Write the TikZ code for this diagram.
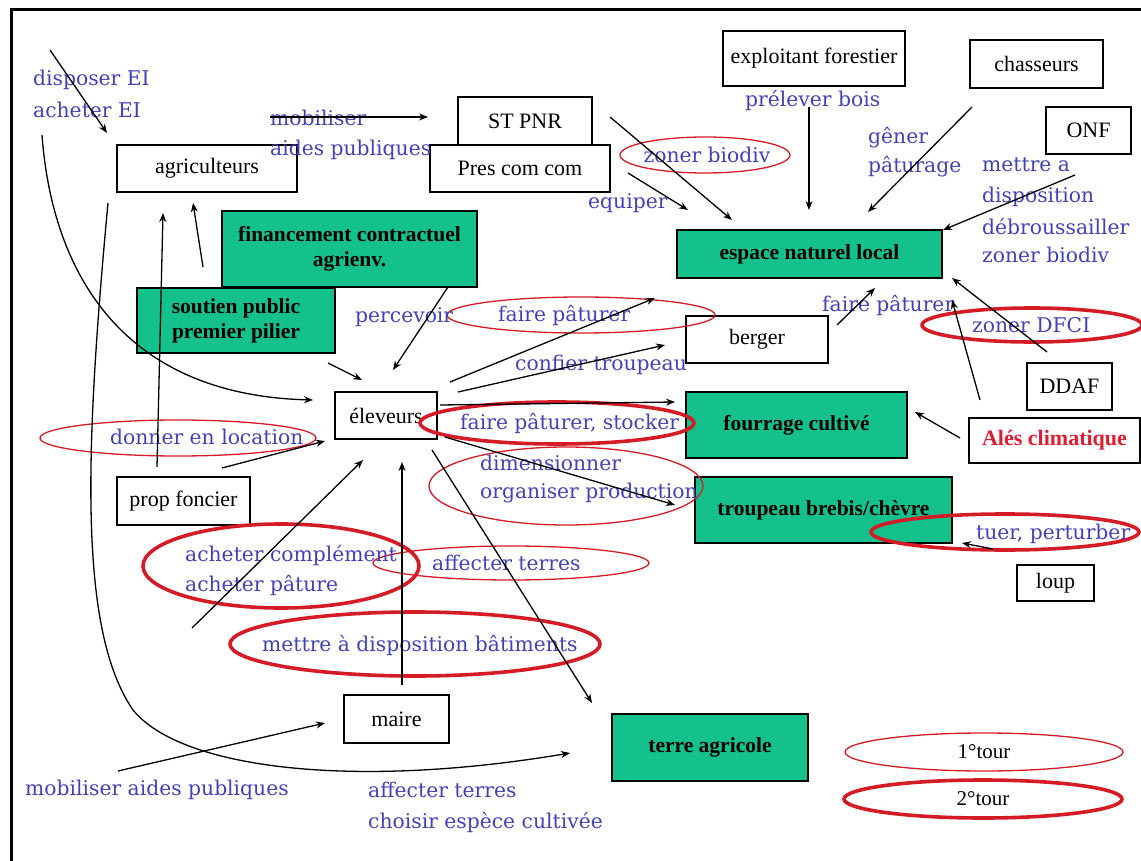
\documentclass[tikz,border=0pt]{standalone}
\usepackage{fontspec}
\setmainfont{Liberation Serif}
\newfontfamily\lblfont{DejaVu Serif}
\usetikzlibrary{shapes.geometric,arrows.meta}
\definecolor{vert}{RGB}{20,192,140}
\definecolor{lblblue}{RGB}{66,66,184}
\definecolor{ellred}{RGB}{212,28,38}
\definecolor{alesred}{RGB}{220,30,50}
\tikzset{
  box/.style={draw=black, line width=1.6pt, fill=white, rectangle, inner sep=0pt, outer sep=0pt,
    font=\fontsize{22}{25}\selectfont, align=center},
  gbox/.style={box, fill=vert, font=\bfseries\fontsize{21.5}{25}\selectfont},
  thinell/.style={draw=ellred, line width=1.3pt, ellipse, inner sep=0pt},
  thickell/.style={draw=ellred, line width=3.6pt, ellipse, inner sep=0pt},
  lbl/.style={text=lblblue, font=\lblfont\fontsize{20.3}{23}\selectfont, anchor=west, inner sep=0pt},
  arr/.style={draw=black, line width=1.3pt, -{Stealth[length=9pt,width=7pt]}},
}
\begin{document}
\begin{tikzpicture}[x=1pt,y=-1pt]
\useasboundingbox (0,0) rectangle (1141,861);
\fill[white] (0,0) rectangle (1141,861);
% frame
\draw[line width=3pt] (11,861) -- (11,10) -- (1141,10);

% white boxes
\node[box, minimum width=180, minimum height=47] (agri) at (207,168.5) {agriculteurs};
\node[box, minimum width=134, minimum height=48] (stpnr) at (525,121) {ST PNR};
\node[box, minimum width=180, minimum height=47] (prescom) at (520,168.5) {Pres com com};
\node[box, minimum width=182, minimum height=55] (exploit) at (814,58.5) {exploitant forestier};
\node[box, minimum width=133, minimum height=48] (chass) at (1036.5,64) {chasseurs};
\node[box, minimum width=85, minimum height=47] (onf) at (1088.5,130.5) {ONF};
\node[box, minimum width=142, minimum height=47] (berger) at (757,339.5) {berger};
\node[box, minimum width=102, minimum height=47] (elev) at (386,415.5) {éleveurs};
\node[box, minimum width=85, minimum height=47] (ddaf) at (1069.5,386.5) {DDAF};
\node[box, minimum width=171, minimum height=45, text=alesred, font=\bfseries\fontsize{22}{25}\selectfont] (ales) at (1054.5,440.5) {Alés climatique};
\node[box, minimum width=133, minimum height=48] (prop) at (183.5,501) {prop foncier};
\node[box, minimum width=77, minimum height=36] (loup) at (1055.5,583) {loup};
\node[box, minimum width=105, minimum height=48] (maire) at (396.5,719) {maire};

% green boxes
\node[gbox, minimum width=255, minimum height=76] (fin) at (349.5,249) {financement contractuel\\agrienv.};
\node[gbox, minimum width=198, minimum height=65] (soutien) at (236,320.5) {soutien public\\premier pilier};
\node[gbox, minimum width=265, minimum height=48] (espace) at (809.5,254) {espace naturel local};
\node[gbox, minimum width=221, minimum height=66] (fourrage) at (796.5,425) {fourrage cultivé};
\node[gbox, minimum width=257, minimum height=66] (troupeau) at (823.5,510) {troupeau brebis/chèvre};
\node[gbox, minimum width=196, minimum height=67] (terre) at (710,747.5) {terre agricole};

% ellipses
\node[thinell, minimum width=170, minimum height=36] (ezoner) at (705,155) {};
\node[thinell, minimum width=268, minimum height=36] (efaire) at (581,315) {};
\node[thickell, minimum width=220, minimum height=34] (edfci) at (1032,325) {};
\node[thinell, minimum width=276, minimum height=36] (eloc) at (178,438) {};
\node[thickell, minimum width=274, minimum height=42] (estock) at (557,423) {};
\node[thinell, minimum width=274, minimum height=78] (edim) at (566,486) {};
\node[thickell, minimum width=268, minimum height=36] (etuer) at (1005,532) {};
\node[thickell, minimum width=276, minimum height=84] (eachat) at (281,566) {};
\node[thinell, minimum width=276, minimum height=34] (eaff) at (511,563) {};
\node[thickell, minimum width=370, minimum height=64] (ebat) at (415,644) {};
\node[thinell, minimum width=278, minimum height=38, font=\fontsize{21}{24}\selectfont] (etour1) at (984,752) {1°tour};
\node[thickell, minimum width=278, minimum height=38, font=\fontsize{21}{24}\selectfont] (etour2) at (983,799) {2°tour};

% blue labels
\node[lbl] (l1) at (33,80) {disposer EI};
\node[lbl] (l2) at (33,110) {acheter EI};
\node[lbl] (l3) at (270,118) {mobiliser};
\node[lbl] (l4) at (270,150) {aides publiques};
\node[lbl, anchor=center] (l5) at (707,155) {zoner biodiv};
\node[lbl] (l6) at (588,203) {equiper};
\node[lbl] (l7) at (745,100) {prélever bois};
\node[lbl] (l8) at (868,138) {gêner};
\node[lbl] (l9) at (868,167) {pâturage};
\node[lbl] (l10) at (982,165) {mettre a};
\node[lbl] (l11) at (982,197) {disposition};
\node[lbl] (l12) at (982,227) {débroussailler};
\node[lbl] (l13) at (982,255) {zoner biodiv};
\node[lbl] (l14) at (355,317) {percevoir};
\node[lbl] (l15) at (498,315) {faire pâturer};
\node[lbl] (l16) at (822,305) {faire pâturer};
\node[lbl] (l17) at (515,365) {confier troupeau};
\node[lbl] (l18) at (972,325) {zoner DFCI};
\node[lbl] (l19) at (110,437) {donner en location};
\node[lbl] (l20) at (460,423) {faire pâturer, stocker};
\node[lbl] (l21) at (480,463) {dimensionner};
\node[lbl] (l22) at (480,493) {organiser production};
\node[lbl] (l23) at (976,534) {tuer, perturber};
\node[lbl] (l24) at (185,555) {acheter complément};
\node[lbl] (l25) at (185,585) {acheter pâture};
\node[lbl] (l26) at (432,563) {affecter terres};
\node[lbl] (l27) at (262,645) {mettre à disposition bâtiments};
\node[lbl] (l28) at (25,790) {mobiliser aides publiques};
\node[lbl] (l29) at (368,790) {affecter terres};
\node[lbl] (l30) at (368,822) {choisir espèce cultivée};

% arrow end points
\coordinate (a1s) at (50,50);    \coordinate (a1e) at (107,133);
\coordinate (a2s) at (270,117);  \coordinate (a2e) at (428,117);
\coordinate (a3s) at (610,117);  \coordinate (a3e) at (732,220);
\coordinate (a4s) at (628,173);  \coordinate (a4e) at (688,210);
\coordinate (a5s) at (809,107);  \coordinate (a5e) at (809,210);
\coordinate (a6s) at (972,107);  \coordinate (a6e) at (868,212);
\coordinate (a7s) at (1075,175); \coordinate (a7e) at (943,230);
\coordinate (a8s) at (1047,352); \coordinate (a8e) at (952,278);
\coordinate (a9s) at (980,400);  \coordinate (a9e) at (952,300);
\coordinate (a10s) at (837,325); \coordinate (a10e) at (875,288);
\coordinate (a11s) at (960,438); \coordinate (a11e) at (915,412);
\coordinate (a12s) at (993,549); \coordinate (a12e) at (962,543);
\coordinate (a13s) at (450,382); \coordinate (a13e) at (655,298);
\coordinate (a14s) at (458,392); \coordinate (a14e) at (665,345);
\coordinate (a15s) at (440,405); \coordinate (a15e) at (675,402);
\coordinate (a16s) at (445,437); \coordinate (a16e) at (675,505);
\coordinate (a17s) at (432,450); \coordinate (a17e) at (592,703);
\coordinate (a18s) at (448,287); \coordinate (a18e) at (393,370);
\coordinate (a19s) at (328,363); \coordinate (a19e) at (362,380);
\coordinate (a20s) at (42,135);  \coordinate (a20e) at (313,400);
\coordinate (a21s) at (108,203); \coordinate (a21m) at (133,710); \coordinate (a21e) at (570,753);
\coordinate (a22s) at (157,467); \coordinate (a22e) at (163,213);
\coordinate (a23s) at (203,267); \coordinate (a23e) at (193,203);
\coordinate (a24s) at (222,468); \coordinate (a24e) at (325,441);
\coordinate (a25s) at (192,628); \coordinate (a25e) at (363,460);
\coordinate (a26s) at (402,685); \coordinate (a26e) at (402,462);
\coordinate (a27s) at (118,771); \coordinate (a27e) at (325,723);

\foreach \i in {1,...,19,22,23,24,25,26,27}
  \draw[arr] (a\i s) -- (a\i e);
\draw[arr] (a20s) .. controls (52,270) and (120,395) .. (a20e);
\draw[arr] (a21s) .. controls (85,450) and (78,630) .. (a21m)
                  .. controls (180,768) and (350,790) .. (a21e);
\end{tikzpicture}
\end{document}
